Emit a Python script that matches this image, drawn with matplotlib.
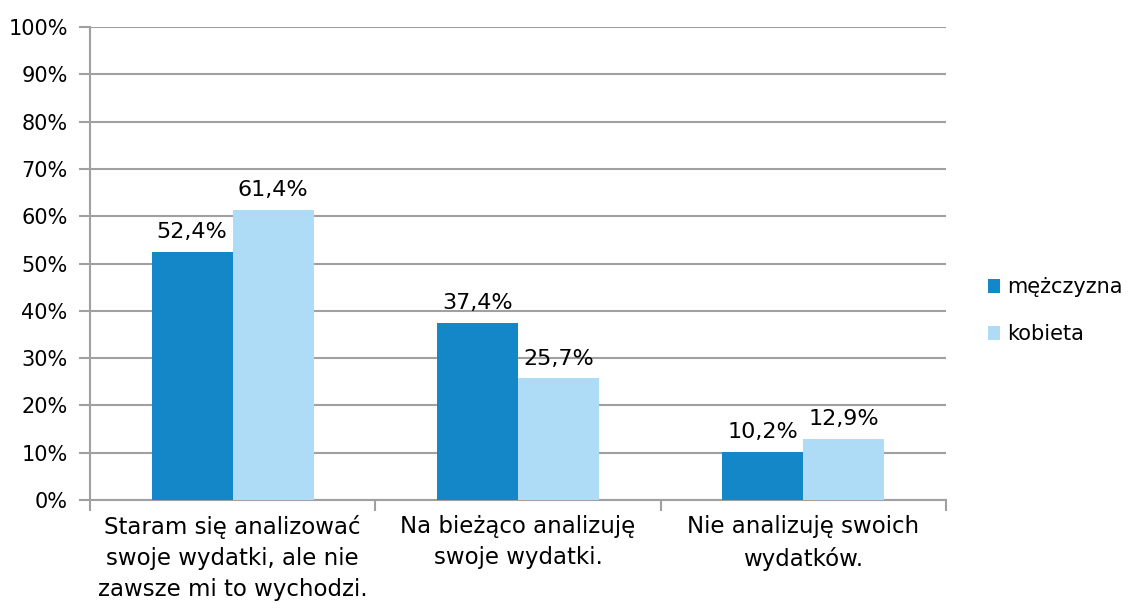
import numpy as np
import matplotlib.pyplot as plt
from matplotlib.ticker import FixedLocator, PercentFormatter

plt.rcParams["font.family"] = ["DejaVu Sans"]
plt.rcParams["font.size"] = 15

categories = [
    "Staram się analizować\nswoje wydatki, ale nie\nzawsze mi to wychodzi.",
    "Na bieżąco analizuję\nswoje wydatki.",
    "Nie analizuję swoich\nwydatków.",
]
men = [52.4, 37.4, 10.2]
women = [61.4, 25.7, 12.9]
series_names = ["mężczyzna", "kobieta"]

dark = "#1487C9"
light = "#AEDBF5"
grid = "#A0A0A0"

fig = plt.figure(figsize=(11.4, 6.08), dpi=100)
ax = fig.add_axes([0.0789, 0.1776, 0.751, 0.778])

x = np.arange(len(categories))
w = 0.284
b1 = ax.bar(x - w / 2, men, w, color=dark, label=series_names[0], zorder=3)
b2 = ax.bar(x + w / 2, women, w, color=light, label=series_names[1], zorder=3)

# value labels above each bar, Polish decimal comma
for bars, vals in ((b1, men), (b2, women)):
    for rect, v in zip(bars, vals):
        ax.annotate(
            f"{v:.1f}%".replace(".", ","),
            (rect.get_x() + rect.get_width() / 2, v),
            xytext=(0, 7),
            textcoords="offset points",
            ha="center",
            va="bottom",
            fontsize=16,
            zorder=4,
        )

ax.set_xlim(-0.5, 2.5)
ax.set_ylim(0, 100)
ax.set_yticks(np.arange(0, 101, 10))
ax.yaxis.set_major_formatter(PercentFormatter(decimals=0))
ax.yaxis.grid(True, color=grid, linewidth=1.5, zorder=0)

ax.set_xticks(x)
ax.set_xticklabels(categories, linespacing=1.45, fontsize=16.5)
ax.xaxis.set_minor_locator(FixedLocator([-0.5, 0.5, 1.5, 2.5]))
ax.tick_params(axis="x", which="major", length=0, pad=11)
ax.tick_params(axis="x", which="minor", length=8, width=1.5, color=grid)
ax.tick_params(axis="y", length=8, width=1.5, color=grid, pad=8)

for s in ("top", "right"):
    ax.spines[s].set_visible(False)
for s in ("left", "bottom"):
    ax.spines[s].set_color(grid)
    ax.spines[s].set_linewidth(1.5)

ax.legend(
    loc="center left",
    bbox_to_anchor=(1.027, 0.40),
    frameon=False,
    handlelength=0.6,
    handleheight=0.6,
    handletextpad=0.3,
    labelspacing=1.3,
    fontsize=15,
)

fig.savefig("out.png", dpi=100)
